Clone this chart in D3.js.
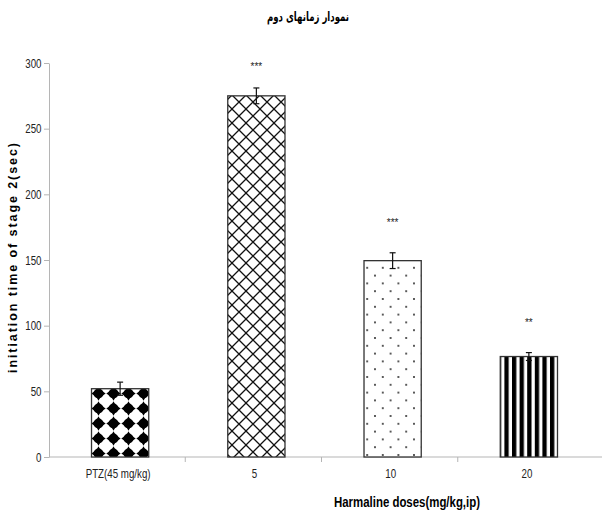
<!DOCTYPE html>
<html>
<head>
<meta charset="utf-8">
<script src="https://cdn.jsdelivr.net/npm/d3@7"></script>
<style>
body { margin: 0; background: #fff; }
text { font-family: "Liberation Sans", Arial, sans-serif; }
</style>
</head>
<body>
<svg id="chart" width="608" height="514"></svg>
<script>
var categories = ["PTZ(45 mg/kg)", "5", "10", "20"];
var means = [52, 275, 149.5, 76.5];
var errors = [5, 6, 6, 3];
var stars = ["", "***", "***", "**"];
var yTicks = [0, 50, 100, 150, 200, 250, 300];
var patterns = ["stars", "hatch", "dots", "stripes"];

var svg = d3.select("#chart");

var x = d3.scaleBand().domain(categories).range([49, 594]).padding(0);
var y = d3.scaleLinear().domain([0, 300]).range([457, 63]);
var barW = x.bandwidth() * 0.42;
var cx = i => x(categories[i]) + x.bandwidth() / 2 + 3;

var defs = svg.append("defs");

// black four-point stars
var p1 = defs.append("pattern").attr("id", "stars")
  .attr("patternUnits", "userSpaceOnUse").attr("width", 15).attr("height", 15)
  .attr("x", 91).attr("y", 386);
p1.append("rect").attr("width", 15).attr("height", 15).attr("fill", "#fff");
p1.append("path").attr("d", "M7.5,0.3 L9.6,4 L14.7,7.5 L9.6,11 L7.5,14.7 L5.4,11 L0.3,7.5 L5.4,4 Z").attr("fill", "#000");
p1.append("circle").attr("cx", 7.5).attr("cy", 7.5).attr("r", 5).attr("fill", "#000");

// diagonal cross-hatch
var p2 = defs.append("pattern").attr("id", "hatch")
  .attr("patternUnits", "userSpaceOnUse").attr("width", 14).attr("height", 14)
  .attr("x", 232).attr("y", 95);
p2.append("rect").attr("width", 14).attr("height", 14).attr("fill", "#fff");
p2.append("path").attr("d", "M0,0 L14,14 M14,0 L0,14").attr("stroke", "#111").attr("stroke-width", 1.3);

// staggered dots
var p3 = defs.append("pattern").attr("id", "dots")
  .attr("patternUnits", "userSpaceOnUse").attr("width", 15.6).attr("height", 15.6)
  .attr("x", 375).attr("y", 260);
p3.append("rect").attr("width", 15.6).attr("height", 15.6).attr("fill", "#fff");
[[0, 0], [15.6, 0], [0, 15.6], [15.6, 15.6], [7.8, 7.8]].forEach(function(p) {
  p3.append("circle").attr("cx", p[0]).attr("cy", p[1]).attr("r", 1).attr("fill", "#222");
});

// vertical stripes
var p4 = defs.append("pattern").attr("id", "stripes")
  .attr("patternUnits", "userSpaceOnUse").attr("width", 7.6).attr("height", 10)
  .attr("x", 512).attr("y", 0);
p4.append("rect").attr("width", 7.6).attr("height", 10).attr("fill", "#fff");
p4.append("rect").attr("width", 4.3).attr("height", 10).attr("fill", "#000");

// title
svg.append("text")
  .attr("x", 308).attr("y", 21)
  .attr("text-anchor", "middle")
  .style("font-family", "'DejaVu Sans', 'Noto Sans', sans-serif")
  .style("font-weight", "bold").style("font-size", "13px")
  .attr("direction", "rtl")
  .attr("textLength", 82).attr("lengthAdjust", "spacingAndGlyphs")
  .text("نمودار زمانهای دوم");

// y axis
var yAxis = svg.append("g")
  .attr("transform", "translate(49,0)")
  .call(d3.axisLeft(y).tickValues(yTicks).tickSize(5).tickSizeOuter(0));
yAxis.select(".domain").attr("stroke", "#b5b5b5");
yAxis.selectAll(".tick line").attr("stroke", "#b5b5b5");
yAxis.selectAll(".tick text")
  .attr("x", -10).attr("transform", "scale(0.75,1)")
  .style("font-family", "'Liberation Sans', Arial, sans-serif")
  .style("font-size", "13px").attr("fill", "#222");

// x axis
svg.append("line").attr("x1", 49).attr("x2", 602).attr("y1", y(0)).attr("y2", y(0))
  .attr("stroke", "#b5b5b5");
svg.selectAll(".xtick").data(categories.slice(1)).enter().append("line")
  .attr("class", "xtick")
  .attr("x1", d => x(d)).attr("x2", d => x(d))
  .attr("y1", y(0)).attr("y2", y(0) + 5)
  .attr("stroke", "#b5b5b5");
svg.selectAll(".xlab").data(categories).enter().append("text")
  .attr("class", "xlab")
  .attr("transform", (d, i) => "translate(" + (cx(i) - 2) + ",478) scale(0.78,1)")
  .attr("text-anchor", "middle")
  .style("font-size", "12.5px").attr("fill", "#222")
  .text(d => d);

// bars
svg.selectAll(".bar").data(means).enter().append("rect")
  .attr("class", "bar")
  .attr("x", (d, i) => cx(i) - barW / 2)
  .attr("y", d => y(d))
  .attr("width", barW)
  .attr("height", d => y(0) - y(d))
  .attr("fill", (d, i) => "url(#" + patterns[i] + ")")
  .attr("stroke", "#333").attr("stroke-width", 1.3);

// error bars
var eb = svg.selectAll(".err").data(means).enter().append("g").attr("class", "err")
  .attr("stroke", "#111").attr("stroke-width", 1.2);
eb.append("line").attr("x1", (d, i) => cx(i)).attr("x2", (d, i) => cx(i))
  .attr("y1", (d, i) => y(d + errors[i])).attr("y2", (d, i) => y(d - errors[i]));
eb.append("line").attr("x1", (d, i) => cx(i) - 3).attr("x2", (d, i) => cx(i) + 3)
  .attr("y1", (d, i) => y(d + errors[i])).attr("y2", (d, i) => y(d + errors[i]));
eb.append("line").attr("x1", (d, i) => cx(i) - 3).attr("x2", (d, i) => cx(i) + 3)
  .attr("y1", (d, i) => y(d - errors[i])).attr("y2", (d, i) => y(d - errors[i]));

// significance marks
svg.selectAll(".sig").data(stars).enter().append("text")
  .attr("class", "sig")
  .attr("x", (d, i) => cx(i))
  .attr("y", (d, i) => y(means[i] + errors[i]) - (i == 1 ? 18 : 27))
  .attr("text-anchor", "middle")
  .style("font-size", "10px").attr("fill", "#222")
  .text(d => d);

// axis titles
svg.append("text")
  .attr("transform", "translate(17,258) rotate(-90)")
  .attr("text-anchor", "middle")
  .style("font-weight", "bold").style("font-size", "12.5px")
  .attr("textLength", 230).attr("lengthAdjust", "spacing")
  .text("initiation time of stage 2(sec)");

svg.append("text")
  .attr("x", 407).attr("y", 507)
  .attr("text-anchor", "middle")
  .style("font-weight", "bold").style("font-size", "14px")
  .attr("textLength", 146).attr("lengthAdjust", "spacingAndGlyphs")
  .text("Harmaline doses(mg/kg,ip)");
</script>
</body>
</html>
